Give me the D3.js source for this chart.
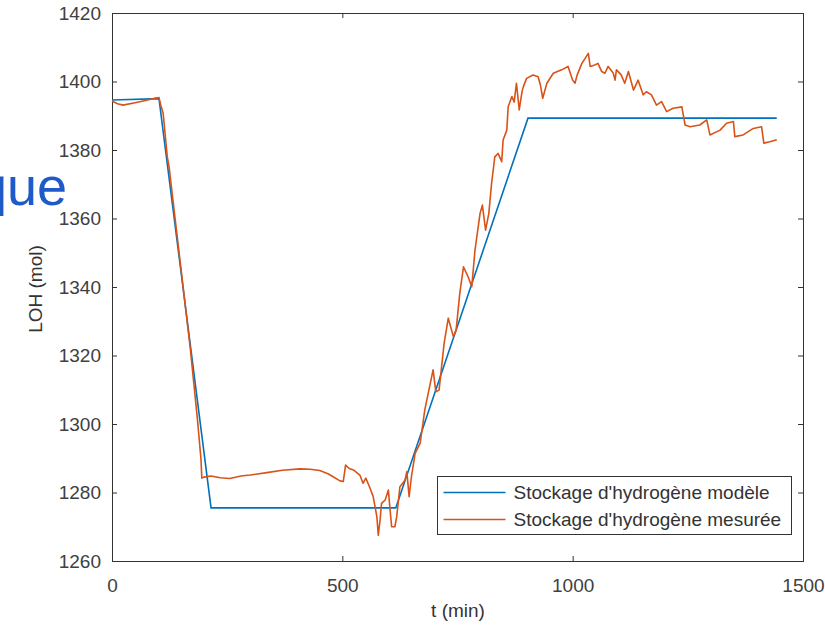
<html>
<head>
    <script src="https://d3js.org/d3.v7.min.js"></script>
    <style>
        html,body{
            margin: 0px;
            padding: 0px;
            background-color: white;
        }
        text {
            font-family: "Liberation Sans", Arial, sans-serif;
        }
    </style>
    <script>
        // values
        const xTicks = [0, 500, 1000, 1500];
        const yTicks = [1260, 1280, 1300, 1320, 1340, 1360, 1380, 1400, 1420];
        const seriesNames = ["Stockage d'hydrogène modèle", "Stockage d'hydrogène mesurée"];

        const modelTime = [0, 102, 215, 616, 903, 1443];
        const modelLoh = [1394.6, 1395, 1275.5, 1275.5, 1389.3, 1389.3];

        const measuredTime = [
            0, 12, 24, 50, 75, 95, 102, 106, 111, 120, 124, 126, 130, 150, 170, 185, 193, 195,
            200, 215, 235, 256, 280, 300, 336, 370, 408, 430, 451, 470, 480, 495, 502, 507,
            515, 524, 538, 545, 551, 560, 567, 575, 578, 582, 585, 593, 600, 603, 607, 614,
            618, 625, 636, 640, 645, 650, 658, 669, 679, 697, 703, 710, 721, 730, 741, 747,
            755, 763, 773, 781, 788, 799, 804, 811, 818, 824, 831, 838, 846, 849, 857, 860,
            868, 873, 878, 884, 890, 893, 900, 914, 925, 930, 935, 944, 958, 976, 990, 1000,
            1005, 1010, 1020, 1034, 1038, 1048, 1055, 1063, 1070, 1077, 1088, 1092, 1095, 1105,
            1113, 1121, 1132, 1142, 1153, 1160, 1171, 1182, 1193, 1204, 1218, 1237, 1244, 1255,
            1276, 1291, 1298, 1320, 1334, 1349, 1352, 1370, 1392, 1410, 1415, 1428, 1443
        ];
        const measuredLoh = [
            1394.3, 1393.5, 1393.1, 1393.8, 1394.5, 1395.2, 1395.3, 1393, 1390.8, 1378, 1375, 1372.7, 1368, 1345, 1322, 1302, 1290, 1284.2,
            1284.5, 1284.8, 1284.3, 1284.1, 1284.8, 1285.1, 1285.8, 1286.5, 1286.9, 1286.8, 1286.4, 1285.4, 1284.6, 1283.4, 1283.2, 1288,
            1287, 1286.6, 1285.1, 1282.7, 1284.2, 1281.3, 1278.8, 1272.9, 1267.5, 1272, 1276.8, 1277.8, 1280.7, 1275.9, 1270, 1270,
            1272.9, 1281.7, 1283.6, 1286.1, 1278.8, 1284.6, 1291.4, 1294.4, 1304.1, 1315.8, 1309.4, 1309.9, 1323.6, 1330.9, 1325.5, 1327.4,
            1338.2, 1345.9, 1343, 1340.1, 1350.8, 1361.5, 1363.9, 1356.6, 1361.5, 1370.3, 1378, 1379, 1376.6, 1382.9, 1385.8, 1392.6,
            1395.6, 1394, 1399.5, 1391.7, 1397, 1398.5, 1400.9, 1401.9, 1401.4, 1399, 1395.1, 1399.5, 1402.4, 1403.4, 1404.4, 1400.4,
            1399.5, 1402, 1405.3, 1408.2, 1404.4, 1404.8, 1405.3, 1402.9, 1402.4, 1404.4, 1402.5, 1400.4, 1403.4, 1402,
            1399.5, 1402.9, 1397.5, 1400.4, 1396.1, 1397, 1396.1, 1393.1, 1394.1, 1391.2, 1392.2, 1392.6, 1387.3, 1386.8,
            1387.3, 1388.8, 1384.4, 1385.8, 1387.8, 1388.3, 1383.9, 1384.4, 1386.3, 1386.8, 1382, 1382.4, 1383
        ];

        window.onload = function() {
            const margin = {top: 13, right: 22, bottom: 66, left: 112},
                width = 825 - margin.left - margin.right,
                height = 627 - margin.top - margin.bottom;
            const colors = ["#0072bd", "#d95319"];
            const axisColor = "#333";

            const svg = d3.select("#chart")
                .append("svg")
                    .attr("width", 825)
                    .attr("height", 627)
                .append("g")
                    .attr("transform", "translate(" + margin.left + "," + margin.top + ")");

            var x = d3.scaleLinear().domain([0, 1500]).range([0, width]);
            var y = d3.scaleLinear().domain([1260, 1420]).range([height, 0]);

            // MATLAB style: ticks pointing inside on all four sides
            svg.append("g")
                .attr("transform", "translate(0," + height + ")")
                .call(d3.axisBottom(x).tickValues(xTicks).tickFormat(d3.format("d"))
                    .tickSizeInner(-5).tickSizeOuter(0).tickPadding(18));
            svg.append("g")
                .call(d3.axisLeft(y).tickValues(yTicks).tickFormat(d3.format("d"))
                    .tickSizeInner(-5).tickSizeOuter(0).tickPadding(11));
            svg.append("g")
                .call(d3.axisTop(x).tickValues(xTicks).tickSizeInner(-5).tickSizeOuter(0).tickFormat(""));
            svg.append("g")
                .attr("transform", "translate(" + width + ",0)")
                .call(d3.axisRight(y).tickValues(yTicks).tickSizeInner(-5).tickSizeOuter(0).tickFormat(""));

            svg.selectAll(".domain").attr("display", "none");
            svg.selectAll(".tick line").attr("stroke", axisColor);
            svg.selectAll(".tick text")
                .attr("font-size", 19)
                .attr("fill", "#404040")
                .attr("font-family", "Liberation Sans, Arial, sans-serif");

            svg.append("rect")
                .attr("x", 0.5)
                .attr("y", 0.5)
                .attr("width", width)
                .attr("height", height)
                .attr("fill", "none")
                .attr("stroke", axisColor);

            var line = d3.line()
                .x(function(d) { return x(d[0]); })
                .y(function(d) { return y(d[1]); });

            svg.append("path")
                .datum(d3.zip(modelTime, modelLoh))
                .attr("fill", "none")
                .attr("stroke", colors[0])
                .attr("stroke-width", 1.6)
                .attr("d", line);

            svg.append("path")
                .datum(d3.zip(measuredTime, measuredLoh))
                .attr("fill", "none")
                .attr("stroke", colors[1])
                .attr("stroke-width", 1.6)
                .attr("stroke-linejoin", "round")
                .attr("d", line);

            // axis labels
            svg.append("text")
                .attr("text-anchor", "middle")
                .attr("x", 346)
                .attr("y", height + 56)
                .attr("font-size", 19)
                .attr("fill", "#333")
                .text("t (min)");

            svg.append("text")
                .attr("text-anchor", "middle")
                .attr("transform", "translate(" + (42 - margin.left) + "," + (289 - margin.top) + ") rotate(-90)")
                .attr("font-size", 19)
                .attr("fill", "#333")
                .text("LOH (mol)");

            // legend
            const legend = svg.append("g")
                .attr("transform", "translate(" + (437.5 - margin.left) + "," + (476.5 - margin.top) + ")");
            legend.append("rect")
                .attr("width", 354)
                .attr("height", 58)
                .attr("fill", "white")
                .attr("stroke", axisColor);
            legend.selectAll(".entry")
                .data(seriesNames)
                .enter()
                .append("g")
                    .attr("transform", function(d, i) { return "translate(0," + (16 + i * 27) + ")"; })
                    .each(function(d, i) {
                        d3.select(this).append("line")
                            .attr("x1", 6).attr("x2", 68)
                            .attr("stroke", colors[i])
                            .attr("stroke-width", 1.6);
                        d3.select(this).append("text")
                            .attr("x", 76)
                            .attr("y", 6.5)
                            .attr("font-size", 19)
                            .attr("fill", "#333")
                            .text(d);
                    });

            // leftover of the slide title behind the figure, cut at the left edge as in the picture
            d3.select("#chart svg").append("text")
                .attr("text-anchor", "end")
                .attr("x", 67)
                .attr("y", 205)
                .attr("font-family", "Open Sans, sans-serif")
                .attr("font-size", 54)
                .attr("fill", "#1f5bc8")
                .text("que");
        }
    </script>
</head>
<body>
    <div id="chart"></div>
</body>
</html>
